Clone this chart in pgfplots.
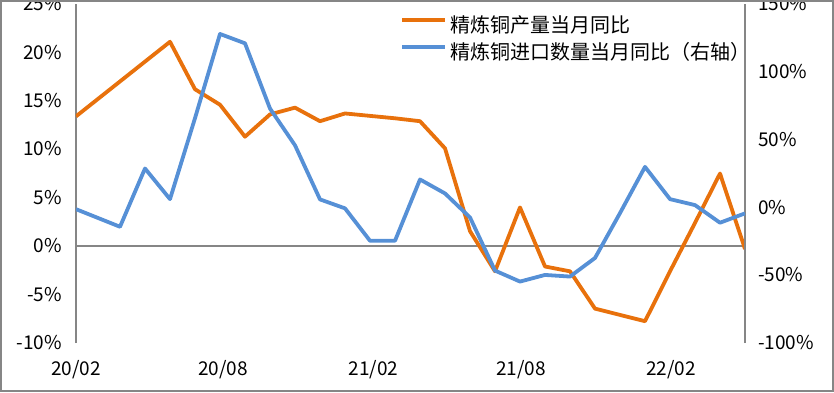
\documentclass[border=0pt]{standalone}
\usepackage{pgfplots}
\pgfplotsset{compat=1.18}
\usepackage{fontspec}
\setmainfont{Noto Sans CJK SC}
\definecolor{corange}{RGB}{232,113,12}
\definecolor{cblue}{RGB}{86,144,214}
\definecolor{cgray}{RGB}{134,134,134}

\pgfplotstableread{
x y
0.24 13.4
4 21.1
5 16.2
6 14.6
7 11.3
8 13.6
9 14.3
10 12.9
11 13.7
12 13.45
13 13.2
14 12.9
15 10.1
16 1.55
17 -2.6
18 4.0
19 -2.1
20 -2.6
21 -6.45
22 -7.1
23 -7.75
24 -2.6
25 2.4
26 7.5
27 -0.3
}\orangedata

\pgfplotstableread{
x y
0.24 -1.3
2 -14.3
3 28.7
4 6.1
5 65.8
6 127.9
7 121.0
8 72.9
9 45.8
10 5.9
11 -0.7
12 -24.6
13 -24.6
14 20.6
15 10.3
16 -7.4
17 -46.6
18 -54.7
19 -49.8
20 -51.0
21 -37.3
22 -4.2
23 29.9
24 6.1
25 1.7
26 -11.3
27 -4.4
}\bluedata

\begin{document}
\begin{tikzpicture}
\useasboundingbox (-76pt,-49pt) rectangle (758pt,343pt);
\pgfplotsset{
  common/.style={
    scale only axis, width=669pt, height=339pt,
    xmin=0.24, xmax=27,
    at={(0pt,0pt)}, anchor=south west,
    major tick length=0pt,
    tick label style={font=\fontsize{19}{21}\selectfont, text=black},
    y axis line style={cgray, line width=1.5pt},
  }
}
\begin{axis}[common,
  ymin=-10, ymax=25,
  axis y line*=left, axis x line*=bottom,
  x axis line style={draw=none},
  xtick={0.24,6.12,12.14,18.04,24.04},
  xticklabels={20/02,20/08,21/02,21/08,22/02},
  xticklabel style={anchor=base, yshift=-32pt, inner sep=0pt},
  ytick={-10,-5,0,5,10,15,20,25},
  yticklabels={-10\%,-5\%,0\%,5\%,10\%,15\%,20\%,25\%},
  yticklabel style={anchor=base east, xshift=-14pt, yshift=-6.6pt, inner sep=0pt},
  extra y ticks={0}, extra y tick labels={},
  extra y tick style={grid=major, major grid style={cgray, line width=1.5pt}},
  legend style={at={(0.4843,0.9646)}, anchor=north west, draw=none, fill=none,
    font=\fontsize{20}{22}\selectfont, inner sep=0pt, row sep=7pt,
    nodes={inner sep=0pt, text height=16pt, text depth=4pt},
    /tikz/every odd column/.style={column sep=3pt}},
  legend cell align=left,
  legend image code/.code={\draw[#1, line width=3.8pt] (0pt,6.5pt)--(43pt,6.5pt);},
]
\addplot[corange, line width=3.8pt, line join=round] table[x=x,y=y] {\orangedata};
\addlegendentry{精炼铜产量当月同比}
\addlegendimage{cblue, line width=3.8pt}
\addlegendentry{精炼铜进口数量当月同比（右轴）}
\end{axis}
\begin{axis}[common,
  ymin=-100, ymax=150,
  axis y line*=right, axis x line=none,
  ytick={-100,-50,0,50,100,150},
  yticklabels={-100\%,-50\%,0\%,50\%,100\%,150\%},
  yticklabel style={anchor=base west, xshift=13pt, yshift=-6.6pt, inner sep=0pt},
]
\addplot[cblue, line width=3.8pt, line join=round] table[x=x,y=y] {\bluedata};
\end{axis}
\draw[cgray, line width=2pt] (-75pt,-48pt) rectangle (757pt,342pt);
\end{tikzpicture}
\end{document}
